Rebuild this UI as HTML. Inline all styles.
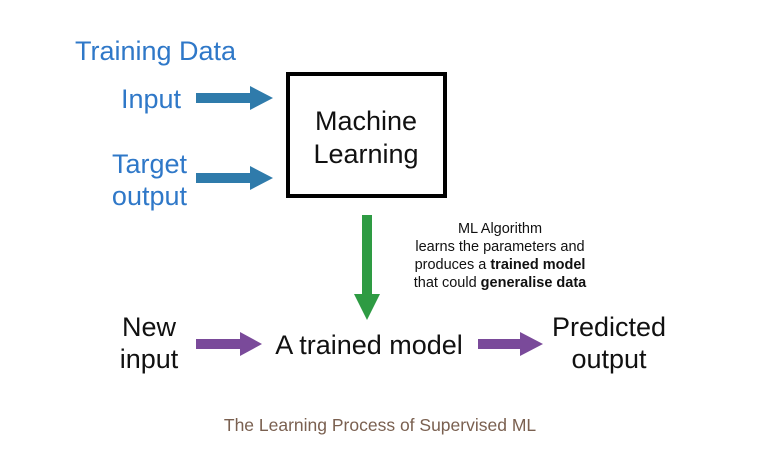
<!DOCTYPE html>
<html><head><style>html,body{margin:0;padding:0;background:#fff}svg{display:block}</style></head>
<body>
<svg width="762" height="461" viewBox="0 0 762 461" xmlns="http://www.w3.org/2000/svg" font-family="Liberation Sans, sans-serif">
<g fill="#2f78c8" font-size="27">
<text x="75" y="60">Training Data</text>
<text x="181" y="108" text-anchor="end">Input</text>
<text x="187" y="173" text-anchor="end">Target</text>
<text x="187" y="205" text-anchor="end">output</text>
</g>
<g fill="#2f7bab">
<polygon points="196,93 250,93 250,86 273,98 250,110 250,103 196,103"/>
<polygon points="196,173 250,173 250,166 273,178 250,190 250,183 196,183"/>
</g>
<rect x="288" y="74" width="157" height="122" fill="none" stroke="#000" stroke-width="4"/>
<g font-size="27" fill="#111" text-anchor="middle">
<text x="366" y="130">Machine</text>
<text x="366" y="163">Learning</text>
</g>
<polygon points="362,215 372,215 372,294 380,294 367,320 354,294 362,294" fill="#2e9b43"/>
<g font-size="14.5" fill="#111" text-anchor="middle">
<text x="500" y="233">ML Algorithm</text>
<text x="500" y="251">learns the parameters and</text>
<text x="500" y="269">produces a <tspan font-weight="bold">trained model</tspan></text>
<text x="500" y="287">that could <tspan font-weight="bold">generalise data</tspan></text>
</g>
<g fill="#7a4a9a">
<polygon points="196,339 240,339 240,332 262,344 240,356 240,349 196,349"/>
<polygon points="478,339 520,339 520,332 543,344 520,356 520,349 478,349"/>
</g>
<g font-size="27" fill="#111" text-anchor="middle">
<text x="149" y="336">New</text>
<text x="149" y="368">input</text>
<text x="369" y="354">A trained model</text>
<text x="609" y="336">Predicted</text>
<text x="609" y="368">output</text>
</g>
<text x="380" y="431" font-size="17.5" fill="#7a6050" text-anchor="middle">The Learning Process of Supervised ML</text>
</svg>
</body></html>
